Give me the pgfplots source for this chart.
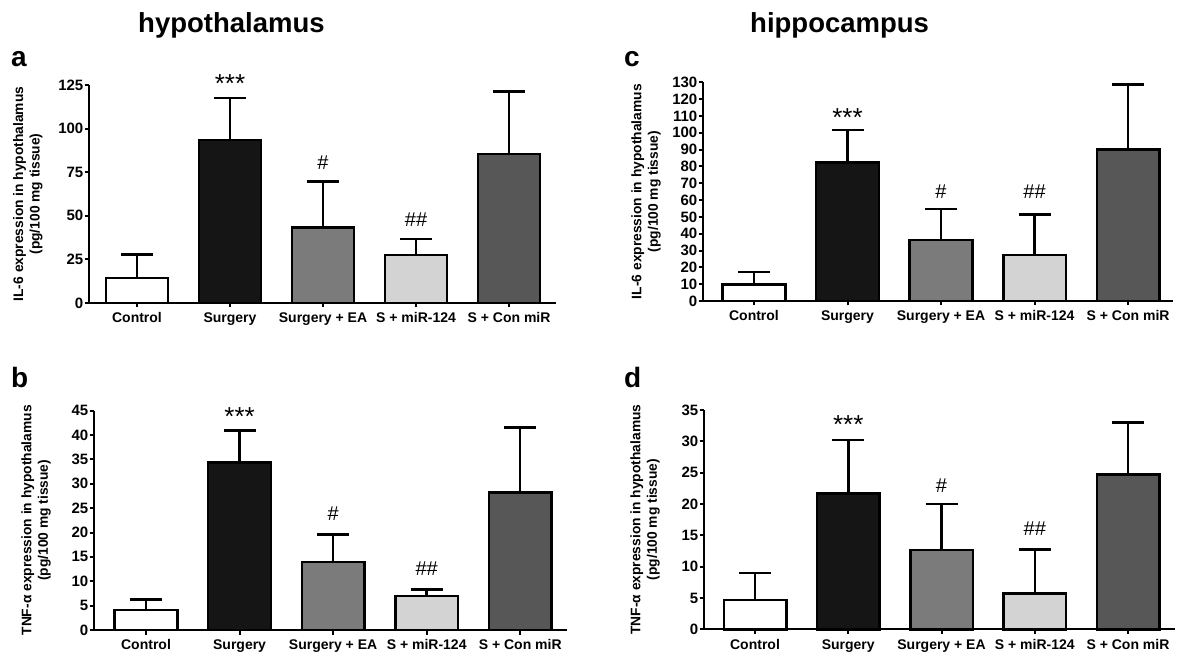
\documentclass[border=0pt]{standalone}
\usepackage{pgfplots}
\pgfplotsset{compat=1.18}
\usepackage{fontspec}
\setmainfont{Liberation Sans}
\definecolor{cSur}{HTML}{151515}
\definecolor{cEA}{HTML}{7B7B7B}
\definecolor{cMiR}{HTML}{D3D3D3}
\definecolor{cCon}{HTML}{575757}
\newcommand\tickfont{\fontsize{15}{17}\selectfont\bfseries}
\newcommand\xtickfont{\fontsize{14}{16}\selectfont\bfseries}
\newcommand\labfont{\fontsize{13.8}{16.5}\selectfont\bfseries}
\newcommand\starfont{\fontsize{26}{28}\selectfont}
\newcommand\hashfont{\fontsize{20}{22}\selectfont}
\pgfplotsset{
  panel/.style={
    scale only axis, anchor=south west,
    axis lines*=left, ybar, bar shift=0pt, bar width=0.67,
    xtick={0,1,2,3,4},
    xticklabels={Control,Surgery,Surgery + EA,S + miR-124,S + Con miR},
    tick align=outside, major tick length=4.5pt,
    axis line style={line width=2pt},
    tick style={line width=2pt, black},
    ymin=0, clip=false,
    /pgf/number format/assume math mode=true,
    yticklabel style={font=\tickfont, inner sep=0pt, xshift=-1pt},
    xticklabel style={font=\xtickfont, inner sep=0pt, text height=10.5pt, text depth=3pt, yshift=-4.5pt},
    ylabel style={font=\labfont, align=center, anchor=center},
    every axis plot/.append style={draw=black, line width=2.5pt},
    error bars/y dir=plus, error bars/y explicit,
    error bars/error mark=|,
    error bars/error bar style={line width=2.5pt, black},
    error bars/error mark options={line width=2.5pt, black, mark size=16pt},
  }
}
\begin{document}
\begin{tikzpicture}
\path[use as bounding box] (0pt,0pt) rectangle (1177pt,653pt);
\node[anchor=base west, font=\fontsize{27.5}{30}\selectfont\bfseries, inner sep=0pt] at (138pt,620pt) {hypothalamus};
\node[anchor=base west, font=\fontsize{27.5}{30}\selectfont\bfseries, inner sep=0pt] at (750pt,620pt) {hippocampus};
\node[anchor=base west, font=\fontsize{28}{30}\selectfont\bfseries, inner sep=0pt] at (11pt,586pt) {a};
\node[anchor=base west, font=\fontsize{28}{30}\selectfont\bfseries, inner sep=0pt] at (624pt,586pt) {c};
\node[anchor=base west, font=\fontsize{28}{30}\selectfont\bfseries, inner sep=0pt] at (11pt,265pt) {b};
\node[anchor=base west, font=\fontsize{28}{30}\selectfont\bfseries, inner sep=0pt] at (624pt,265pt) {d};

% panel a
\begin{axis}[panel, at={(89pt,350pt)}, width=467pt, height=218pt,
  xmin=-0.516, xmax=4.505, ymax=125, ytick={0,25,...,125},
  ylabel={IL-6 expression in hypothalamus\\(pg/100 mg tissue)},
  ylabel style={at={(axis description cs:-0.131,0.5)}}]
\addplot[fill=white] coordinates {(0,14.2) +- (0,13.7)};
\addplot[fill=cSur] coordinates {(1,93.5) +- (0,23.9)};
\addplot[fill=cEA] coordinates {(2,43.4) +- (0,26.2)};
\addplot[fill=cMiR] coordinates {(3,27.5) +- (0,9.2)};
\addplot[fill=cCon] coordinates {(4,85.4) +- (0,35.8)};
\node[anchor=base, font=\starfont] at (axis cs:1,120.6) {***};
\node[anchor=base, font=\hashfont] at (axis cs:2,76.3) {\#};
\node[anchor=base, font=\hashfont] at (axis cs:3,43.7) {\#\#};
\end{axis}

% panel c
\begin{axis}[panel, at={(703pt,352pt)}, width=470pt, height=218.7pt,
  xmin=-0.545, xmax=4.48, ymax=130, ytick={0,10,...,130},
  ylabel={IL-6 expression in hypothalamus\\(pg/100 mg tissue)},
  ylabel style={at={(axis description cs:-0.121,0.5)}}]
\addplot[fill=white] coordinates {(0,9.9) +- (0,7.2)};
\addplot[fill=cSur] coordinates {(1,82.2) +- (0,19.5)};
\addplot[fill=cEA] coordinates {(2,36.3) +- (0,18.4)};
\addplot[fill=cMiR] coordinates {(3,27.3) +- (0,24.0)};
\addplot[fill=cCon] coordinates {(4,90.2) +- (0,38.4)};
\node[anchor=base, font=\starfont] at (axis cs:1,103.8) {***};
\node[anchor=base, font=\hashfont] at (axis cs:2,61.1) {\#};
\node[anchor=base, font=\hashfont] at (axis cs:3,61.1) {\#\#};
\end{axis}

% panel b
\begin{axis}[panel, at={(94pt,23pt)}, width=473pt, height=219.3pt,
  xmin=-0.556, xmax=4.50, ymax=45, ytick={0,5,...,45},
  ylabel={TNF-α expression in hypothalamus\\(pg/100 mg tissue)},
  ylabel style={at={(axis description cs:-0.1226,0.5)}}]
\addplot[fill=white] coordinates {(0,4.1) +- (0,2.2)};
\addplot[fill=cSur] coordinates {(1,34.4) +- (0,6.5)};
\addplot[fill=cEA] coordinates {(2,14.0) +- (0,5.6)};
\addplot[fill=cMiR] coordinates {(3,7.0) +- (0,1.3)};
\addplot[fill=cCon] coordinates {(4,28.2) +- (0,13.4)};
\node[anchor=base, font=\starfont] at (axis cs:1,41.9) {***};
\node[anchor=base, font=\hashfont] at (axis cs:2,22.4) {\#};
\node[anchor=base, font=\hashfont] at (axis cs:3,11.1) {\#\#};
\end{axis}

% panel d
\begin{axis}[panel, at={(704pt,23.7pt)}, width=471pt, height=219.3pt,
  xmin=-0.547, xmax=4.504, ymax=35, ytick={0,5,...,35},
  ylabel={TNF-α expression in hypothalamus\\(pg/100 mg tissue)},
  ylabel style={at={(axis description cs:-0.125,0.5)}}]
\addplot[fill=white] coordinates {(0,4.7) +- (0,4.3)};
\addplot[fill=cSur] coordinates {(1,21.7) +- (0,8.5)};
\addplot[fill=cEA] coordinates {(2,12.65) +- (0,7.35)};
\addplot[fill=cMiR] coordinates {(3,5.74) +- (0,6.96)};
\addplot[fill=cCon] coordinates {(4,24.7) +- (0,8.3)};
\node[anchor=base, font=\starfont] at (axis cs:1,31.3) {***};
\node[anchor=base, font=\hashfont] at (axis cs:2,21.8) {\#};
\node[anchor=base, font=\hashfont] at (axis cs:3,14.9) {\#\#};
\end{axis}
\end{tikzpicture}
\end{document}
